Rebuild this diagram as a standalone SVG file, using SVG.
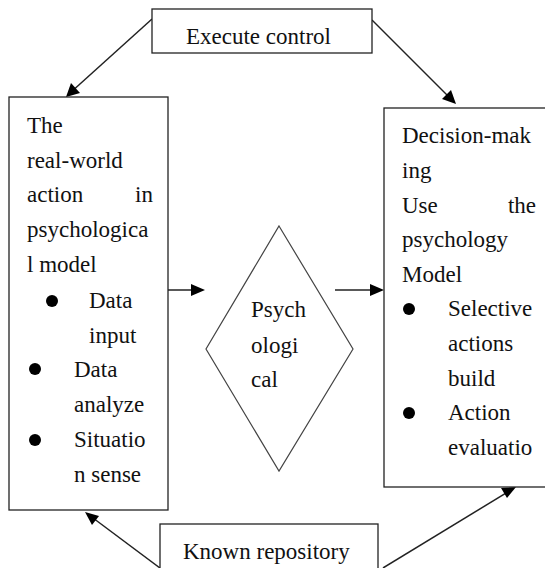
<svg xmlns="http://www.w3.org/2000/svg" width="545" height="568" viewBox="0 0 545 568">
  <style>
    .box { fill: #fff; stroke: #222; stroke-width: 1.3; }
    .t { font-family: 'Liberation Serif', Tinos, 'Times New Roman', 'DejaVu Serif', serif; font-size: 23px; fill: #111; }
    .link { stroke: #222; stroke-width: 1.5; fill: none; }
    .head { fill: #000; }
    .dot { fill: #000; }
  </style>
  <rect width="545" height="568" fill="#fff"/>

  <!-- connectors: straight lines with filled triangular heads -->
  <g id="connectors">
    <line class="link" x1="152" y1="19" x2="70" y2="93"/>
    <path class="head" d="M66,97 L71,83 L80,93 Z"/>
    <line class="link" x1="372" y1="20" x2="452" y2="100"/>
    <path class="head" d="M456,104 L442,99 L451,90 Z"/>
    <line class="link" x1="168" y1="290" x2="192" y2="290"/>
    <path class="head" d="M205,290 L191,284 L191,296 Z"/>
    <line class="link" x1="335" y1="290" x2="371" y2="290"/>
    <path class="head" d="M384,290 L370,284 L370,296 Z"/>
    <line class="link" x1="160" y1="568" x2="89" y2="515"/>
    <path class="head" d="M85,512 L99,516 L92,525 Z"/>
    <line class="link" x1="383" y1="568" x2="511" y2="490"/>
    <path class="head" d="M516,487 L507,498 L501,488 Z"/>
  </g>

  <g id="execute-control">
    <rect class="box" x="152" y="9" width="220" height="44"/>
    <text class="t" x="186" y="44">Execute control</text>
  </g>

  <g id="real-world-action">
    <rect class="box" x="9" y="97" width="159" height="413"/>
    <text class="t" x="27" y="133">The</text>
    <text class="t" x="27" y="168">real-world</text>
    <text class="t" x="27" y="202">action</text>
    <text class="t" x="153" y="202" text-anchor="end">in</text>
    <text class="t" x="27" y="237">psychologica</text>
    <text class="t" x="27" y="272">l model</text>
    <circle class="dot" cx="52" cy="301" r="6"/>
    <text class="t" x="89" y="308">Data</text>
    <text class="t" x="89" y="343">input</text>
    <circle class="dot" cx="35" cy="369" r="6"/>
    <text class="t" x="74" y="377">Data</text>
    <text class="t" x="74" y="412">analyze</text>
    <circle class="dot" cx="35" cy="440" r="6"/>
    <text class="t" x="74" y="447">Situatio</text>
    <text class="t" x="74" y="482">n sense</text>
  </g>

  <g id="psychological">
    <polygon points="279,226 353,349 279,471 206,349" fill="#fff" stroke="#444" stroke-width="1.2"/>
    <text class="t" x="251" y="317">Psych</text>
    <text class="t" x="251" y="353">ologi</text>
    <text class="t" x="251" y="387">cal</text>
  </g>

  <g id="decision-making">
    <rect class="box" x="384" y="108" width="170" height="379"/>
    <text class="t" x="402" y="143">Decision-mak</text>
    <text class="t" x="402" y="178">ing</text>
    <text class="t" x="402" y="213">Use</text>
    <text class="t" x="536" y="213" text-anchor="end">the</text>
    <text class="t" x="402" y="247">psychology</text>
    <text class="t" x="402" y="282">Model</text>
    <circle class="dot" cx="409" cy="309" r="6"/>
    <text class="t" x="448" y="316">Selective</text>
    <text class="t" x="448" y="351">actions</text>
    <text class="t" x="448" y="386">build</text>
    <circle class="dot" cx="409" cy="413" r="6"/>
    <text class="t" x="448" y="420">Action</text>
    <text class="t" x="448" y="455">evaluatio</text>
  </g>

  <g id="known-repository">
    <rect class="box" x="160" y="524" width="218" height="60"/>
    <text class="t" x="183" y="559">Known repository</text>
  </g>
</svg>
